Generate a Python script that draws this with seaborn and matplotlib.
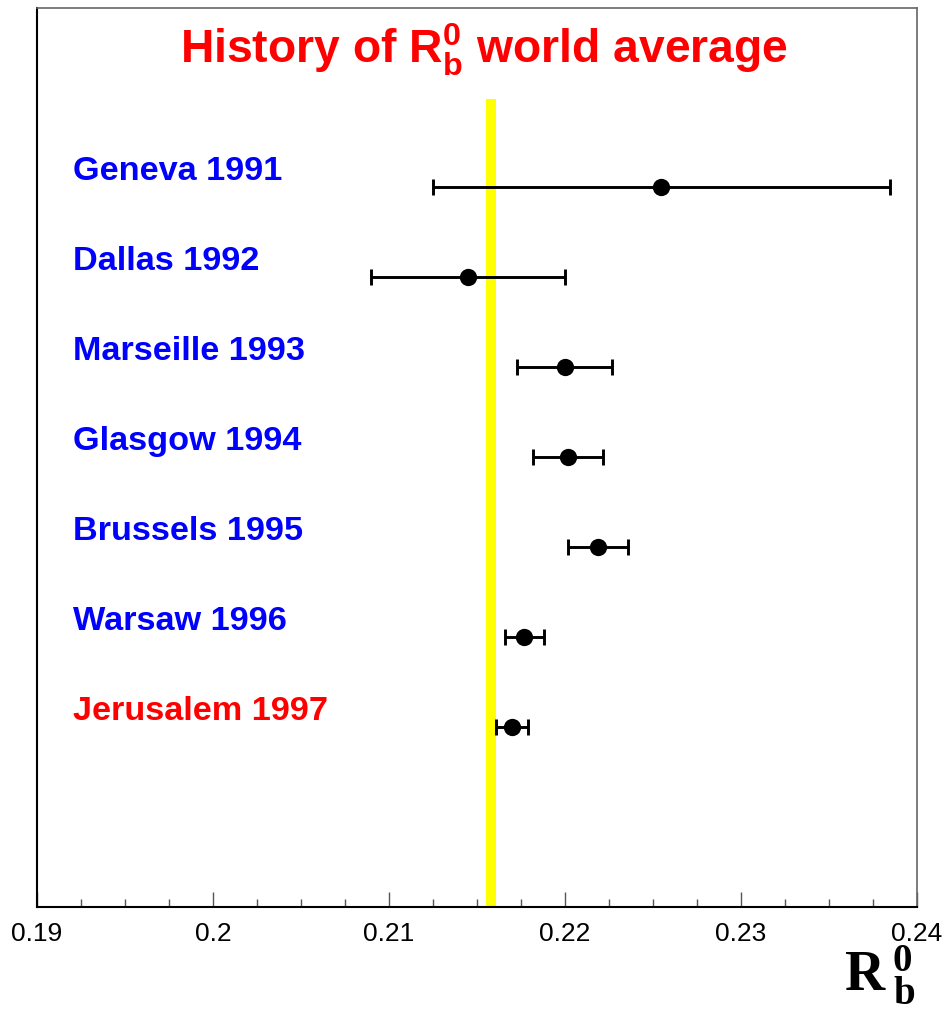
import numpy as np
import pandas as pd
import matplotlib
matplotlib.use("Agg")
import matplotlib.pyplot as plt
import seaborn as sns
from matplotlib.ticker import MultipleLocator

# measurements of R_b^0 shown at each conference
meetings = ["Geneva 1991", "Dallas 1992", "Marseille 1993", "Glasgow 1994",
            "Brussels 1995", "Warsaw 1996", "Jerusalem 1997"]
rb_value = [0.2255, 0.2145, 0.2200, 0.2202, 0.2219, 0.2177, 0.2170]
rb_error = [0.0130, 0.0055, 0.0027, 0.0020, 0.0017, 0.0011, 0.0009]
label_colors = ["blue"] * 6 + ["red"]

# standard model band
sm_value = 0.2158
sm_halfwidth = 0.0003

df = pd.DataFrame({"meeting": meetings, "rb": rb_value, "err": rb_error,
                   "row": np.arange(len(meetings))})

sns.set_style("white")
plt.rcParams["mathtext.fontset"] = "custom"
plt.rcParams["mathtext.bf"] = "Liberation Sans:bold"
plt.rcParams["mathtext.rm"] = "Liberation Sans"

fig = plt.figure(figsize=(9.47, 10.12), dpi=100)
ax = fig.add_axes([0.0391, 0.1028, 0.9287, 0.8888])

# yellow band for the world average / SM
ax.fill_betweenx([-0.98, 8], sm_value - sm_halfwidth, sm_value + sm_halfwidth,
                 color="yellow", lw=0, zorder=1)

ax.errorbar(df["rb"], df["row"], xerr=df["err"], fmt="none", ecolor="black",
            elinewidth=2.1, capsize=5.5, capthick=2.1, zorder=2)
sns.scatterplot(data=df, x="rb", y="row", ax=ax, color="black", s=155,
                edgecolor="black", linewidth=0, zorder=3, legend=False)

for i, (name, c) in enumerate(zip(meetings, label_colors)):
    ax.text(0.041, i - 0.09, name, transform=ax.get_yaxis_transform(),
            color=c, fontsize=24.7, fontweight="bold", family="Liberation Sans",
            va="baseline", ha="left")

ax.set_xlim(0.19, 0.24)
ax.set_ylim(8, -2)
ax.xaxis.set_major_locator(MultipleLocator(0.01))
ax.xaxis.set_minor_locator(MultipleLocator(0.0025))
ax.set_xticks([0.19, 0.2, 0.21, 0.22, 0.23, 0.24])
ax.set_xticklabels(["0.19", "0.2", "0.21", "0.22", "0.23", "0.24"],
                   family="Liberation Sans", fontsize=19, color="black")
ax.set_yticks([])
ax.tick_params(axis="x", which="major", direction="in", length=11, width=1,
               color="#555555", pad=10, bottom=True, top=False)
ax.tick_params(axis="x", which="minor", direction="in", length=6, width=1,
               color="#555555", bottom=True, top=False)
ax.set_xlabel("")
ax.set_ylabel("")
for side in ["left", "bottom"]:
    ax.spines[side].set_color("black")
    ax.spines[side].set_linewidth(1.5)
for side in ["top", "right"]:
    ax.spines[side].set_color("#666666")
    ax.spines[side].set_linewidth(1.2)

fig.text(0.5106, 0.9377, r"History of $\mathbf{R_b^0}$ world average",
         color="red", fontsize=33.3, fontweight="bold", family="Liberation Sans",
         ha="center", va="baseline")

# axis title R_b^0 in bold serif, built from three pieces like the ROOT label
serif = dict(family="Liberation Serif", fontweight="bold", color="black")
fig.text(0.9345, 0.0217, "R", fontsize=40, ha="right", va="baseline", **serif)
fig.text(0.9425, 0.0405, "0", fontsize=28, ha="left", va="baseline", **serif)
fig.text(0.9435, 0.0075, "b", fontsize=28, ha="left", va="baseline", **serif)

fig.savefig("out.png", dpi=100)
